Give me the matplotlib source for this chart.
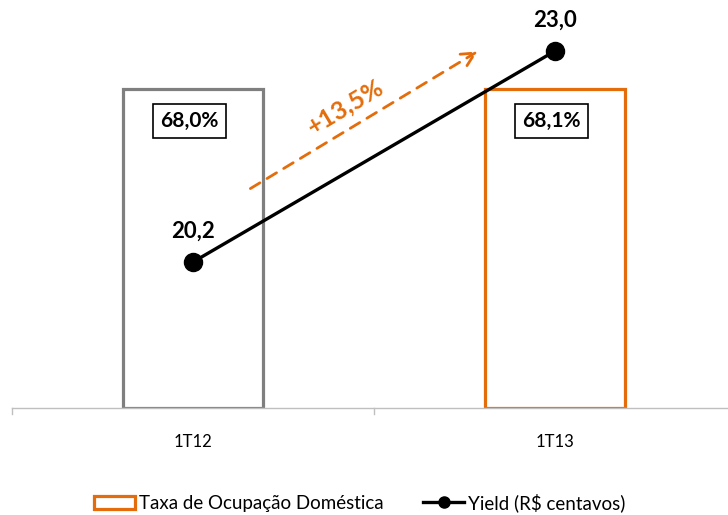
import matplotlib
matplotlib.use('Agg')
import matplotlib.pyplot as plt
from matplotlib.patches import Patch
from matplotlib.lines import Line2D

plt.rcParams['font.family'] = ['Lato', 'DejaVu Sans']

# data
periods = ['1T12', '1T13']
ocupacao = [68.0, 68.1]          # Taxa de Ocupação Doméstica (%)
yield_cent = [20.2, 23.0]        # Yield (R$ centavos)
ocupacao_labels = ['68,0%', '68,1%']
yield_labels = ['20,2', '23,0']
growth_label = '+13,5%'

gray = '#7f7f7f'
orange = '#E46C0A'

fig = plt.figure(figsize=(7.28, 5.15), dpi=100)
W, H = 728, 515
# axis line at y=408 px, category spacing 362 px starting at x=12
ax = fig.add_axes([12 / W, (H - 408) / H, 724 / W, 408 / H])
x = list(range(len(periods)))

bars = ax.bar(x, ocupacao, width=0.385, facecolor='white',
              edgecolor=[gray, orange], linewidth=2.3)
ax.set_xlim(-0.5, 1.5)
ymax = 68 * 408 / 319
ax.set_ylim(0, ymax)
for b, lab in zip(bars, ocupacao_labels):
    ax.text(b.get_x() + b.get_width() / 2 - 0.01, (408 - 121) / 408 * ymax, lab,
            ha='center', va='center', fontsize=15, fontweight='bold',
            bbox=dict(boxstyle='square,pad=0.35', facecolor='white',
                      edgecolor='black', linewidth=1.2))

ax.set_yticks([])
for s in ['top', 'right', 'left']:
    ax.spines[s].set_visible(False)
ax.spines['bottom'].set_color('#bfbfbf')
ax.spines['bottom'].set_linewidth(1)
ax.set_xticks(x)
ax.set_xticklabels(periods, fontsize=12)
ax.tick_params(axis='x', length=0, pad=19)
# category boundary ticks
for xb in [-0.5, 0.5, 1.5]:
    ax.plot([xb, xb], [0, -1.3], color='#bfbfbf', lw=1, clip_on=False)

ax2 = ax.twinx()
ax2.set_ylim(20.2 - 146 / 75.36, 23.0 + 51 / 75.36)
ax2.plot(x, yield_cent, color='black', lw=2.4, marker='o', markersize=13,
         zorder=5)
for xi, yv, lab in zip(x, yield_cent, yield_labels):
    ax2.annotate(lab, (xi, yv), xytext=(0, 22), textcoords='offset points',
                 ha='center', va='center', fontsize=16, fontweight='bold')
ax2.set_yticks([])
for s in ax2.spines.values():
    s.set_visible(False)

# growth arrow
ax2.annotate('', xy=((480 - 12) / 724, (408 - 50) / 408),
             xytext=((248 - 12) / 724, (408 - 190) / 408),
             xycoords='axes fraction', textcoords='axes fraction',
             arrowprops=dict(arrowstyle='->', color=orange, lw=2,
                             linestyle=(0, (4, 3)), mutation_scale=24))
ax2.text((345 - 12) / 724, (408 - 107) / 408, growth_label,
         transform=ax2.transAxes, rotation=31, color=orange, fontsize=18,
         fontweight='bold', ha='center', va='center')

handles = [Patch(facecolor='white', edgecolor=orange, linewidth=2.3),
           Line2D([0], [0], color='black', lw=2.4, marker='o', markersize=8)]
fig.legend(handles, ['Taxa de Ocupação Doméstica', 'Yield (R$ centavos)'],
           loc='lower left', bbox_to_anchor=(94 / W, 3 / H), ncol=2,
           frameon=False, fontsize=13.5, handlelength=2.2, handletextpad=0.2,
           columnspacing=2.1, borderpad=0, borderaxespad=0)

fig.savefig('out.png', dpi=100)
